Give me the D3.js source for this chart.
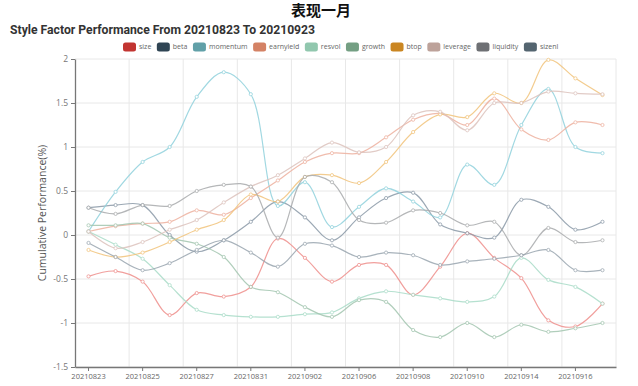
<!DOCTYPE html>
<html>
<head>
<meta charset="utf-8">
<script src="https://cdn.jsdelivr.net/npm/d3@7"></script>
<style>
  body { margin: 0; background: #fff; }
  svg { display: block; font-family: "Open Sans", "Noto Sans", sans-serif; }
</style>
</head>
<body>
<svg id="chart" width="638" height="386"></svg>
<script>
const dates = ["20210823", "20210824", "20210825", "20210826", "20210827", "20210830", "20210831",
  "20210901", "20210902", "20210903", "20210906", "20210907", "20210908", "20210909", "20210910",
  "20210913", "20210914", "20210915", "20210916", "20210917"];

const factorNames = ["size", "beta", "momentum", "earnyield", "resvol", "growth", "btop", "leverage", "liquidity", "sizenl"];
// legend swatches use the full palette, the lines are drawn in lighter tints
const factorColors = ["#c23531", "#2f4554", "#61a0a8", "#d48265", "#91c7ae", "#749f83", "#ca8622", "#bda29a", "#6e7074", "#546570"];
const lineColors = ["#ef8f8c", "#8b9aa8", "#91d2dd", "#eeb19f", "#a9dcc8", "#a3c6b0", "#f2c47c", "#ddc3bd", "#a9abad", "#9aa6b0"];

const size = [-0.47, -0.41, -0.53, -0.91, -0.66, -0.7, -0.59, -0.04, -0.26, -0.53, -0.34, -0.34, -0.68, -0.36, 0.02, -0.26, -0.49, -0.97, -1.04, -0.78];
const beta = [0.31, 0.34, 0.34, 0.0, -0.19, -0.06, 0.15, 0.38, 0.2, -0.06, 0.2, 0.42, 0.48, 0.12, 0.02, -0.03, 0.4, 0.32, 0.06, 0.15];
const momentum = [0.04, 0.49, 0.83, 1.0, 1.57, 1.85, 1.6, 0.33, 0.6, 0.09, 0.32, 0.53, 0.38, 0.2, 0.8, 0.57, 1.25, 1.66, 1.0, 0.93];
const earnyield = [0.04, 0.1, 0.13, 0.15, 0.28, 0.23, 0.42, 0.62, 0.83, 0.93, 0.93, 1.11, 1.31, 1.38, 1.25, 1.55, 1.2, 1.08, 1.28, 1.25];
const resvol = [0.04, -0.11, -0.27, -0.57, -0.85, -0.91, -0.93, -0.93, -0.9, -0.88, -0.72, -0.64, -0.68, -0.72, -0.76, -0.7, -0.26, -0.51, -0.59, -0.78];
const growth = [0.11, 0.11, 0.13, -0.03, -0.1, -0.25, -0.59, -0.65, -0.82, -0.93, -0.74, -0.76, -1.08, -1.16, -1.0, -1.16, -1.02, -1.1, -1.06, -1.0];
const btop = [-0.17, -0.25, -0.2, -0.08, 0.06, 0.17, 0.46, 0.38, 0.66, 0.68, 0.59, 0.83, 1.17, 1.37, 1.34, 1.61, 1.5, 1.99, 1.78, 1.59];
const leverage = [0.04, -0.15, -0.08, 0.06, 0.17, 0.37, 0.55, 0.68, 0.87, 1.05, 0.94, 1.0, 1.36, 1.4, 1.19, 1.5, 1.5, 1.63, 1.61, 1.6];
const liquidity = [0.31, 0.24, 0.34, 0.33, 0.5, 0.57, 0.55, -0.03, 0.66, 0.6, 0.17, 0.14, 0.28, 0.25, 0.11, 0.15, -0.23, 0.08, -0.08, -0.06];
const sizenl = [-0.09, -0.25, -0.4, -0.32, -0.17, -0.06, -0.2, -0.36, -0.1, -0.12, -0.25, -0.2, -0.23, -0.34, -0.3, -0.27, -0.23, -0.17, -0.4, -0.4];

const yTicks = [-1.5, -1, -0.5, 0, 0.5, 1, 1.5, 2];

const seriesValues = [size, beta, momentum, earnyield, resvol, growth, btop, leverage, liquidity, sizenl];
const series = factorNames.map((name, i) => ({
  name, color: factorColors[i], lineColor: lineColors[i], values: seriesValues[i]
}));

const svg = d3.select("#chart");
const margin = { top: 59, right: 22, bottom: 19, left: 75 };
const W = 638, H = 386;

const x = d3.scaleBand().domain(dates).range([margin.left, W - margin.right]);
const y = d3.scaleLinear().domain([-1.5, 2]).range([H - margin.bottom, margin.top]);
const cx = d => x(d) + x.bandwidth() / 2;

// titles
svg.append("text")
  .attr("x", 321).attr("y", 16)
  .attr("text-anchor", "middle")
  .style("font-family", "'Noto Sans CJK SC', sans-serif")
  .style("font-size", "15px").style("font-weight", "bold").style("fill", "#111")
  .text("表现一月");

svg.append("text")
  .attr("x", 10).attr("y", 34)
  .style("font-family", "'Liberation Sans Narrow', 'Roboto', sans-serif")
  .style("font-size", "12.2px").style("font-weight", "bold").style("fill", "#333")
  .text("Style Factor Performance From 20210823 To 20210923");

// grid
const grid = svg.append("g");
grid.selectAll(".hg").data(yTicks).enter().append("line")
  .attr("x1", margin.left).attr("x2", W - margin.right)
  .attr("y1", d => y(d)).attr("y2", d => y(d))
  .style("stroke", "#e8e8e8");
const bounds = dates.map((d, i) => i).filter(i => i > 0 && i % 2 === 0).map(i => x(dates[i]));
bounds.push(W - margin.right);
grid.selectAll(".vg").data(bounds).enter().append("line")
  .attr("x1", d => d).attr("x2", d => d)
  .attr("y1", margin.top).attr("y2", H - margin.bottom)
  .style("stroke", "#e8e8e8");

// axes
const xAxis = svg.append("g")
  .attr("transform", `translate(0,${H - margin.bottom})`)
  .call(d3.axisBottom(x).tickValues(dates.filter((d, i) => i % 2 === 0)).tickSize(4).tickSizeOuter(0));
xAxis.select(".domain").style("stroke", "#777").style("stroke-width", 1.3);
xAxis.selectAll(".tick line").style("stroke", "#777");
xAxis.selectAll("text").style("font-size", "7.5px").style("fill", "#666").attr("dy", "0.6em")
  .style("font-family", "'Open Sans', sans-serif");

const yAxis = svg.append("g")
  .attr("transform", `translate(${margin.left},0)`)
  .call(d3.axisLeft(y).tickValues(yTicks).tickFormat(d => String(d)).tickSize(4).tickSizeOuter(0));
yAxis.select(".domain").style("stroke", "#777").style("stroke-width", 1.3);
yAxis.selectAll(".tick line").style("stroke", "#777");
yAxis.selectAll("text").style("font-size", "8.5px").style("fill", "#777")
  .style("font-family", "'Open Sans', sans-serif");

svg.append("text")
  .attr("transform", "translate(46,213) rotate(-90)")
  .attr("text-anchor", "middle")
  .style("font-size", "10.5px").style("fill", "#555")
  .text("Cumulative Performance(%)");

// lines
const line = d3.line()
  .x((v, i) => cx(dates[i]))
  .y(v => y(v))
  .curve(d3.curveCatmullRom.alpha(0.5));

const lines = svg.append("g");
series.forEach(s => {
  const g = lines.append("g").style("opacity", 0.85);
  g.append("path")
    .attr("d", line(s.values))
    .style("fill", "none")
    .style("stroke", s.lineColor)
    .style("stroke-width", 1.2);
  g.selectAll("circle").data(s.values).enter().append("circle")
    .attr("cx", (v, i) => cx(dates[i]))
    .attr("cy", v => y(v))
    .attr("r", 1.6)
    .style("fill", "#fff")
    .style("stroke", s.lineColor)
    .style("stroke-width", 0.9);
});

// legend
const legend = svg.append("g").attr("transform", "translate(123,47)");
let lx = 0;
series.forEach(s => {
  const item = legend.append("g").attr("transform", `translate(${lx},0)`);
  item.append("rect")
    .attr("x", 0).attr("y", -4.5).attr("width", 13).attr("height", 9)
    .attr("rx", 2.5)
    .style("fill", s.color);
  const t = item.append("text")
    .attr("x", 16).attr("y", 0).attr("dy", "0.35em")
    .style("font-size", "7px").style("fill", "#666")
    .text(s.name);
  lx += 16 + t.node().getComputedTextLength() + 5.5;
});
</script>
</body>
</html>
